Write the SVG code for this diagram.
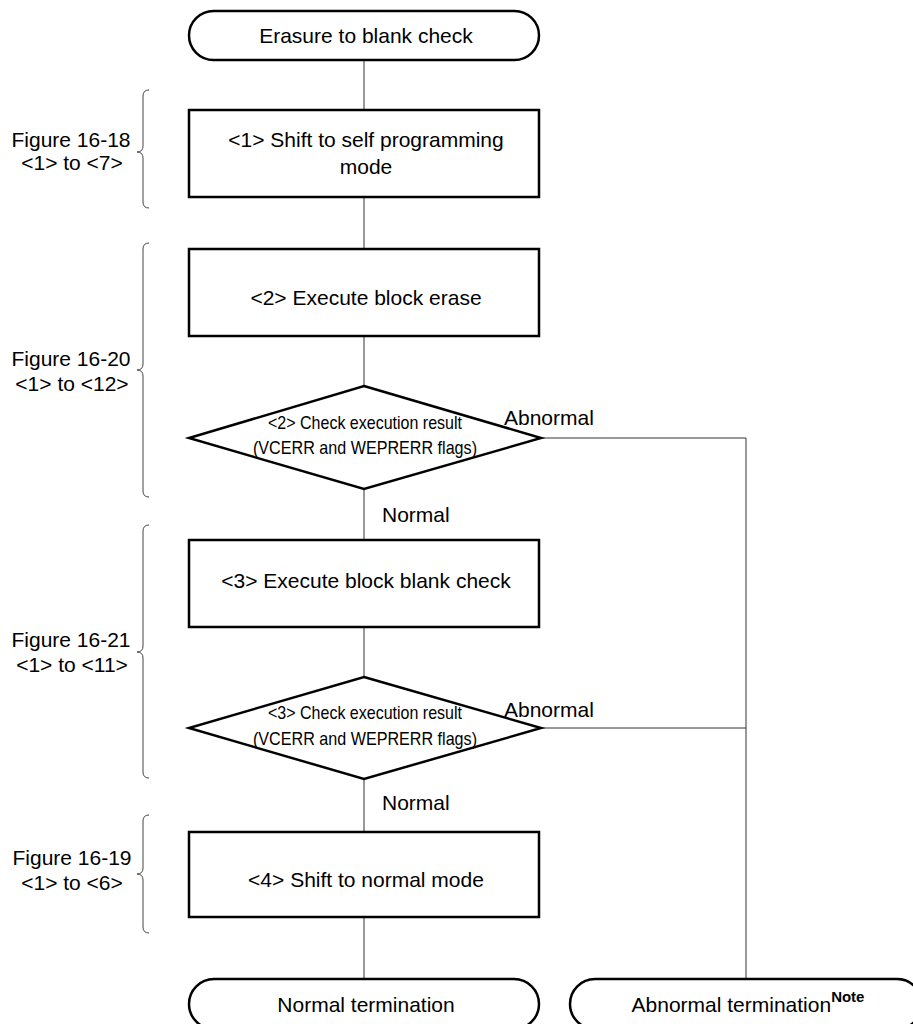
<svg xmlns="http://www.w3.org/2000/svg" width="913" height="1024" viewBox="0 0 913 1024">
<style>
text{font-family:"Liberation Sans",Arial,sans-serif;font-size:21px;fill:#000}
.c{text-anchor:middle}
.d{font-size:19px}
.shape{fill:#fff;stroke:#000;stroke-width:2.5}
.conn{fill:none;stroke:#333;stroke-width:1}
.brace{fill:none;stroke:#444;stroke-width:1}
.note{font-size:15px;font-weight:bold}
</style>
<rect width="913" height="1024" fill="#fff"/>
<g id="connectors">
<path class="conn" d="M364,60V110M364,197V249M364,336V386M364,489V540M364,627V677M364,779V832M364,917V979"/>
<path class="conn" d="M541,438H746V979M541,728H746"/>
</g>
<g id="labels">
<text x="504" y="425">Abnormal</text>
<text x="504" y="717">Abnormal</text>
<text x="382" y="522">Normal</text>
<text x="382" y="810">Normal</text>
</g>
<g id="braces">
<path class="brace" d="M149,90Q143,90 143,96L143,146Q143,152 137,152Q143,152 143,158L143,202Q143,208 149,208"/>
<path class="brace" d="M149,243Q143,243 143,249L143,364Q143,370 137,370Q143,370 143,376L143,491Q143,497 149,497"/>
<path class="brace" d="M149,525Q143,525 143,531L143,646Q143,652 137,652Q143,652 143,658L143,772Q143,778 149,778"/>
<path class="brace" d="M149,815Q143,815 143,821L143,868Q143,874 137,874Q143,874 143,880L143,927Q143,933 149,933"/>
<text class="c" x="71" y="147">Figure 16-18</text>
<text class="c" x="72" y="170">&lt;1&gt; to &lt;7&gt;</text>
<text class="c" x="71" y="366">Figure 16-20</text>
<text class="c" x="72" y="391">&lt;1&gt; to &lt;12&gt;</text>
<text class="c" x="71" y="647">Figure 16-21</text>
<text class="c" x="72" y="672">&lt;1&gt; to &lt;11&gt;</text>
<text class="c" x="72" y="865">Figure 16-19</text>
<text class="c" x="72" y="890">&lt;1&gt; to &lt;6&gt;</text>
</g>
<g id="start">
<rect class="shape" x="189" y="11" width="350" height="49" rx="24.5"/>
<text class="c" x="366" y="43">Erasure to blank check</text>
</g>
<g id="step1">
<rect class="shape" x="189" y="110" width="350" height="87"/>
<text class="c" x="366" y="147">&lt;1&gt; Shift to self programming</text>
<text class="c" x="366" y="174">mode</text>
</g>
<g id="step2">
<rect class="shape" x="189" y="249" width="350" height="87"/>
<text class="c" x="366" y="305">&lt;2&gt; Execute block erase</text>
</g>
<g id="check2">
<polygon class="shape" points="364,386 541,438 364,489 189,438"/>
<text class="c d" x="365" y="429" textLength="194" lengthAdjust="spacingAndGlyphs">&lt;2&gt; Check execution result</text>
<text class="c d" x="365" y="454" textLength="224" lengthAdjust="spacingAndGlyphs">(VCERR and WEPRERR flags)</text>
</g>
<g id="step3">
<rect class="shape" x="189" y="540" width="350" height="87"/>
<text class="c" x="366" y="588">&lt;3&gt; Execute block blank check</text>
</g>
<g id="check3">
<polygon class="shape" points="364,677 541,728 364,779 189,728"/>
<text class="c d" x="365" y="719" textLength="194" lengthAdjust="spacingAndGlyphs">&lt;3&gt; Check execution result</text>
<text class="c d" x="365" y="745" textLength="224" lengthAdjust="spacingAndGlyphs">(VCERR and WEPRERR flags)</text>
</g>
<g id="step4">
<rect class="shape" x="189" y="832" width="350" height="85"/>
<text class="c" x="366" y="887">&lt;4&gt; Shift to normal mode</text>
</g>
<g id="end-normal">
<rect class="shape" x="189" y="979" width="350" height="50" rx="25"/>
<text class="c" x="366" y="1012">Normal termination</text>
</g>
<g id="end-abnormal">
<rect class="shape" x="570" y="979" width="352" height="50" rx="25"/>
<text class="c" x="748" y="1012">Abnormal termination<tspan class="note" dy="-10">Note</tspan></text>
</g>
</svg>
